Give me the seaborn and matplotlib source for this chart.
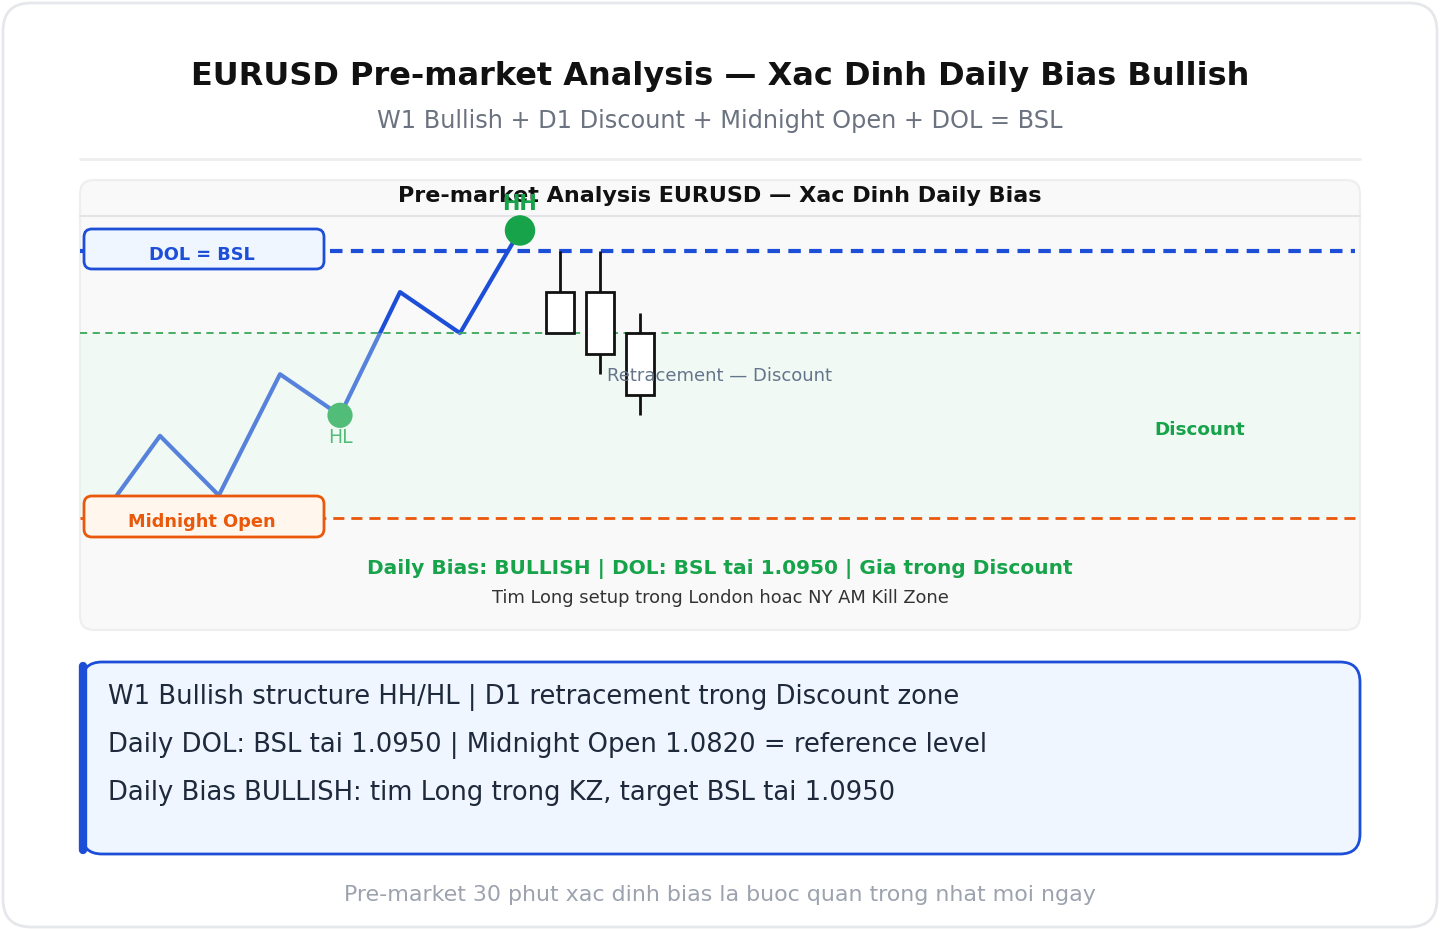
import numpy as np
import pandas as pd
import matplotlib
matplotlib.use("Agg")
import matplotlib.pyplot as plt
import seaborn as sns
from matplotlib.patches import FancyBboxPatch, Rectangle

sns.set_theme(style="white")
plt.rcParams['font.family'] = ['DejaVu Sans']

# ---------------- data ----------------
title = "EURUSD Pre-market Analysis \u2014 Xac Dinh Daily Bias Bullish"
subtitle = "W1 Bullish + D1 Discount + Midnight Open + DOL = BSL"
panel_title = "Pre-market Analysis EURUSD \u2014 Xac Dinh Daily Bias"

swing_x = [0.28, 1.0, 1.98, 3.0, 4.0, 5.0, 6.0, 7.0]
swing_price = [1.0831, 1.0860, 1.0831, 1.0890, 1.0870, 1.0930, 1.0910, 1.0960]

hh_point = (7.0, 1.0960)
hl_point = (4.0, 1.0870)

candle_x = [7.67, 8.33, 9.0]
candle_high = [1.0950, 1.0950, 1.0920]
candle_top = [1.0930, 1.0930, 1.0910]
candle_bottom = [1.0910, 1.0900, 1.0880]
candle_low = [1.0910, 1.0890, 1.0870]

bsl_level = 1.0950
equilibrium = 1.0910
midnight_open = 1.0820

bias_line = "Daily Bias: BULLISH | DOL: BSL tai 1.0950 | Gia trong Discount"
bias_sub = "Tim Long setup trong London hoac NY AM Kill Zone"
notes = [
    "W1 Bullish structure HH/HL | D1 retracement trong Discount zone",
    "Daily DOL: BSL tai 1.0950 | Midnight Open 1.0820 = reference level",
    "Daily Bias BULLISH: tim Long trong KZ, target BSL tai 1.0950",
]
footer = "Pre-market 30 phut xac dinh bias la buoc quan trong nhat moi ngay"

# ---------------- figure ----------------
W, H = 1440, 930
fig = plt.figure(figsize=(W / 100, H / 100), dpi=100)
fig.patch.set_facecolor("white")

bg = fig.add_axes([0, 0, 1, 1])
bg.set_xlim(0, W)
bg.set_ylim(H, 0)
bg.axis("off")

# outer card
bg.add_patch(FancyBboxPatch((3, 3), W - 6, H - 6, boxstyle="round,pad=0,rounding_size=28",
                            fc="white", ec="#e5e7eb", lw=2))
bg.text(720, 77, title, ha="center", va="center", fontsize=23, fontweight="bold", color="#111111")
bg.text(720, 121, subtitle, ha="center", va="center", fontsize=17.3, color="#6b7280")
bg.plot([80, 1360], [159, 159], color="#eeeeee", lw=2)

# panel
bg.add_patch(FancyBboxPatch((80, 180), 1280, 450, boxstyle="round,pad=0,rounding_size=14",
                            fc="#f9f9f9", ec="#eeeeee", lw=1.5))
bg.plot([80, 1360], [216, 216], color="#e4e4e8", lw=1.5)

# info box
bg.add_patch(FancyBboxPatch((82, 662), 1278, 192, boxstyle="round,pad=0,rounding_size=20",
                            fc="#eff6ff", ec="#1d4ed8", lw=2))
bg.plot([83, 83], [666, 850], color="#1d4ed8", lw=6, solid_capstyle="round")
for i, t in enumerate(notes):
    bg.text(108, 697 + 48 * i, t, ha="left", va="center", fontsize=18.6, color="#1e293b")
bg.text(720, 895, footer, ha="center", va="center", fontsize=15.9, color="#9ca3af")

# ---------------- chart axes (data coords) ----------------
px_per_unit_y = 267 / 0.0130
def price_at(pxy):
    return bsl_level - (pxy - 251) / px_per_unit_y

ax = fig.add_axes([80 / W, 1 - 630 / H, 1280 / W, 450 / H])
ax.set_facecolor("none")
ax.patch.set_alpha(0)
ax.set_xlim((80 - 100) / 60, (1360 - 100) / 60)
ax.set_ylim(price_at(630), price_at(180))
ax.axis("off")

ax.text(0.5, 1 - (196 - 180) / 450, panel_title, transform=ax.transAxes, ha="center", va="center",
        fontsize=16, fontweight="bold", color="#111111", zorder=2)

df = pd.DataFrame({"x": swing_x, "price": swing_price})
sns.lineplot(data=df, x="x", y="price", ax=ax, color="#1d4ed8", lw=3, sort=False, zorder=3)
sns.scatterplot(x=[hh_point[0]], y=[hh_point[1]], ax=ax, s=480, color="#16a34a", edgecolor="none", zorder=4)
sns.scatterplot(x=[hl_point[0]], y=[hl_point[1]], ax=ax, s=330, color="#16a34a", edgecolor="none", zorder=4)
ax.text(hh_point[0], price_at(204), "HH", ha="center", va="center", fontsize=15,
        fontweight="bold", color="#16a34a", zorder=4)
ax.text(hl_point[0], price_at(437), "HL", ha="center", va="center", fontsize=13.5,
        color="#16a34a", zorder=4)

# discount zone overlay (lightens what lies under it)
x0, x1 = ax.get_xlim()
ax.add_patch(Rectangle((x0, midnight_open), x1 - x0, equilibrium - midnight_open,
                       fc="#dcfce7", ec="none", alpha=0.3, zorder=5))
ax.axhline(equilibrium, color="#3aa85a", lw=1.3, ls=(0, (4, 3)), zorder=6)
ax.plot([x0, (1355 - 100) / 60], [bsl_level, bsl_level], color="#1d4ed8", lw=3,
        ls=(0, (3, 2)), zorder=6)
ax.axhline(midnight_open, color="#ea580c", lw=2, ls=(0, (4, 2.5)), zorder=6)

# candles
bw = 28 / 60
for cx, hi, top, bot, lo in zip(candle_x, candle_high, candle_top, candle_bottom, candle_low):
    ax.vlines(cx, top, hi, color="#111111", lw=2, zorder=7)
    ax.vlines(cx, lo, bot, color="#111111", lw=2, zorder=7)
ax.bar(candle_x, np.array(candle_top) - np.array(candle_bottom), bottom=candle_bottom,
       width=bw, color="white", edgecolor="#111111", linewidth=2, zorder=8)

ax.text((607 - 100) / 60, price_at(376), "Retracement \u2014 Discount", ha="left", va="center",
        fontsize=13, color="#64748b", zorder=9)
ax.text((1200 - 100) / 60, price_at(430), "Discount", ha="center", va="center",
        fontsize=13.2, fontweight="bold", color="#16a34a", zorder=9)

# labels on level lines (pixel placed, drawn above the chart lines)
ax.add_patch(FancyBboxPatch((84, 229), 240, 40, boxstyle="round,pad=0,rounding_size=8",
                            fc="#eff6ff", ec="#1d4ed8", lw=2, zorder=10,
                            transform=bg.transData, clip_on=False))
ax.text(202, 255, "DOL = BSL", ha="center", va="center", fontsize=12.8, fontweight="bold",
        color="#1d4ed8", zorder=11, transform=bg.transData)
ax.add_patch(FancyBboxPatch((84, 496), 240, 41, boxstyle="round,pad=0,rounding_size=8",
                            fc="#fff7ed", ec="#ea580c", lw=2, zorder=10,
                            transform=bg.transData, clip_on=False))
ax.text(202, 522, "Midnight Open", ha="center", va="center", fontsize=12.8, fontweight="bold",
        color="#ea580c", zorder=11, transform=bg.transData)

ax.text(0.5, 1 - (569 - 180) / 450, bias_line, transform=ax.transAxes, ha="center", va="center",
        fontsize=14.5, fontweight="bold", color="#16a34a", zorder=9)
ax.text(0.5, 1 - (598 - 180) / 450, bias_sub, transform=ax.transAxes, ha="center", va="center",
        fontsize=12.9, color="#333333", zorder=9)

bg.set_zorder(0)
ax.set_zorder(1)

fig.savefig("out.png", dpi=100, facecolor="white")
